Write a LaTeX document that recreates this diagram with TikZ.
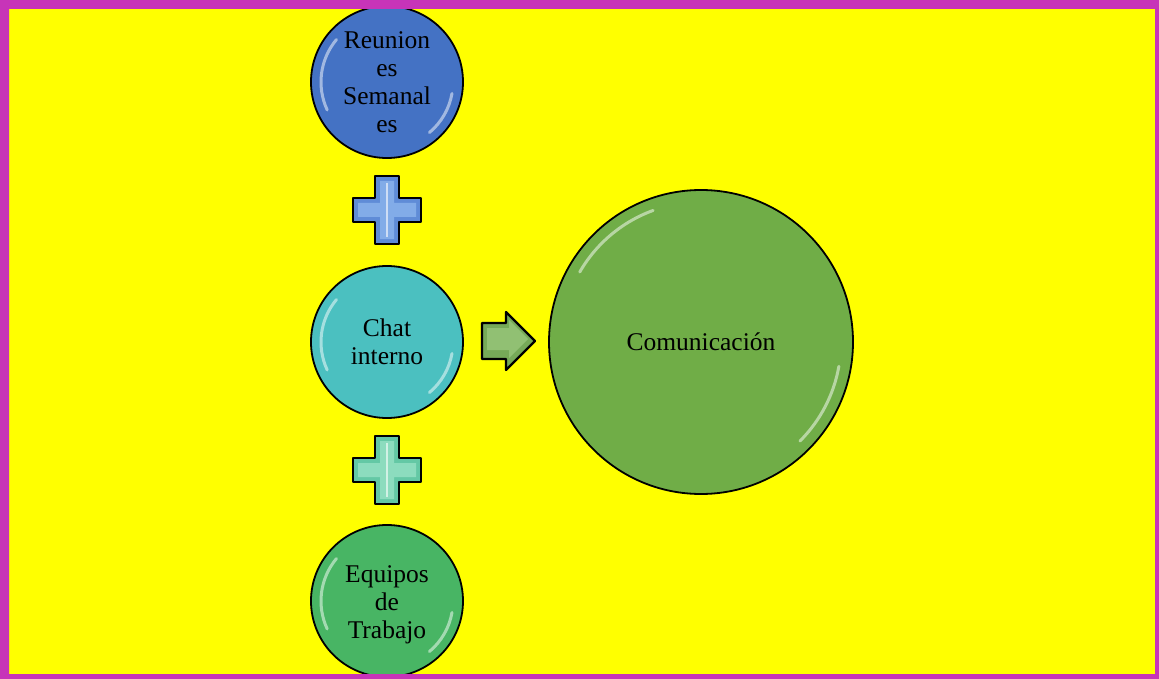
\documentclass[tikz,border=0pt]{standalone}
\usepackage{fontspec}
\setmainfont{Liberation Serif}
\definecolor{frameC}{RGB}{199,52,184}
\definecolor{pageY}{RGB}{255,255,0}
\definecolor{blueC}{RGB}{68,114,196}
\definecolor{tealC}{RGB}{75,192,192}
\definecolor{greenE}{RGB}{72,181,100}
\definecolor{greenC}{RGB}{112,173,71}
\definecolor{plusA}{RGB}{95,140,215}
\definecolor{plusAin}{RGB}{130,172,232}
\definecolor{plusB}{RGB}{100,200,165}
\definecolor{plusBin}{RGB}{140,220,190}
\definecolor{arrowC}{RGB}{118,170,88}
\definecolor{arrowIn}{RGB}{145,192,115}
\tikzset{
  bubble/.style={circle, draw=black, line width=1.8pt, inner sep=0pt,
    align=center, text=black, font=\fontsize{25.5}{28}\selectfont},
  gloss/.style={white, line width=3pt, opacity=0.5, line cap=round},
  pics/plussign/.style 2 args={code={
    \fill[#1, draw=black, line width=2.2pt, line join=round]
      (-12,-34) -- (12,-34) -- (12,-12) -- (34,-12) -- (34,12) -- (12,12)
      -- (12,34) -- (-12,34) -- (-12,12) -- (-34,12) -- (-34,-12) -- (-12,-12) -- cycle;
    \fill[#2]
      (-7,-29) -- (7,-29) -- (7,-7) -- (29,-7) -- (29,7) -- (7,7)
      -- (7,29) -- (-7,29) -- (-7,7) -- (-29,7) -- (-29,-7) -- (-7,-7) -- cycle;
    \draw[white, opacity=0.6, line width=1.5pt] (0,-27) -- (0,27);
  }}
}
\begin{document}
\begin{tikzpicture}[x=1pt,y=-1pt]
  % page background
  \fill[pageY] (0,0) rectangle (1159,679);

  % left column of circles
  \node[bubble, fill=blueC, minimum size=152pt] (reun) at (387,82)
    {Reunion\\es\\Semanal\\es};
  \node[bubble, fill=tealC, minimum size=152pt] (chat) at (387,342)
    {Chat\\interno};
  \node[bubble, fill=greenE, minimum size=152pt] (equi) at (387,601) {};
  \node[align=center, font=\fontsize{25.5}{28}\selectfont] (equitxt) at (387,605)
    {Equipos\\de\\Trabajo};

  % result circle
  \node[bubble, fill=greenC, minimum size=304pt] (comu) at (701,342)
    {Comunicación};

  % glossy reflections
  \foreach \n in {reun,chat,equi}{
    \draw[gloss] ([shift={(-140:66)}]\n.center) arc[start angle=-140, end angle=-205, radius=66];
    \draw[gloss] ([shift={(10:66)}]\n.center) arc[start angle=10, end angle=50, radius=66];
  }
  \draw[gloss] ([shift={(-110:140)}]comu.center) arc[start angle=-110, end angle=-150, radius=140];
  \draw[gloss] ([shift={(10:140)}]comu.center) arc[start angle=10, end angle=45, radius=140];

  % plus signs between circles
  \coordinate (plusone) at (387,210);
  \coordinate (plustwo) at (387,470);
  \pic at (plusone) {plussign={plusA}{plusAin}};
  \pic at (plustwo) {plussign={plusB}{plusBin}};

  % arrow to the result
  \coordinate (arr) at (482,341);
  \fill[arrowC, draw=black, line width=2.2pt, line join=round]
    ([shift={(0,-18)}]arr) -- ++(24,0) -- ++(0,-11) -- ++(29,29)
    -- ++(-29,29) -- ++(0,-11) -- ++(-24,0) -- cycle;
  \fill[arrowIn]
    ([shift={(5,-13)}]arr) -- ++(22,0) -- ++(0,-8) -- ++(19,19)
    -- ++(-19,19) -- ++(0,-8) -- ++(-22,0) -- cycle;

  % page frame
  \fill[frameC, even odd rule] (0,0) rectangle (1159,679) (9,9) rectangle (1155,674);
\end{tikzpicture}
\end{document}
